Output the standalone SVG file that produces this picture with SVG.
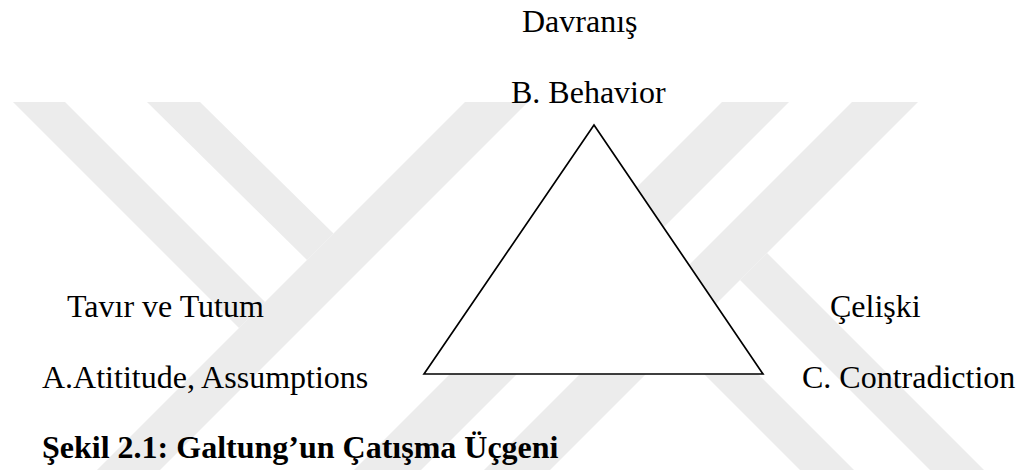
<svg xmlns="http://www.w3.org/2000/svg" width="1019" height="474" viewBox="0 0 1019 474">
  <defs>
    <style>
      text { font-family: 'Liberation Serif', 'DejaVu Serif', serif; font-size: 32px; fill: #000000; }
      .cap { font-weight: bold; }
      .wm { fill: #ececec; }
      .edge { fill: #ffffff; stroke: #000000; stroke-width: 1.7; stroke-linejoin: miter; }
    </style>
    <clipPath id="wmclip">
      <rect x="0" y="102" width="1019" height="368"/>
    </clipPath>
  </defs>
  <rect x="0" y="0" width="1019" height="474" fill="#ffffff"/>

  <g id="watermark" clip-path="url(#wmclip)">
    <polygon class="wm" points="13,102 65,102 265,302 239,328"/>
    <polygon class="wm" points="147,102 200,102 333.5,233.5 307,260"/>
    <polygon class="wm" points="465,102 528,102 160,470 97,470"/>
    <polygon class="wm" points="722,102 789,102 421,470 354,470"/>
    <polygon class="wm" points="852,102 918,102 550,470 484,470"/>
    <polygon class="wm" points="767,253 984,470 930,470 740,280"/>
    <polygon class="wm" points="637.5,253.5 854,470 800,470 610.5,280.5"/>
  </g>

  <g id="connectors">
    <polygon class="edge" points="424,374 594,125 763,374"/>
  </g>

  <g id="node-B">
    <text font-family="Liberation Serif, serif" x="522" y="32">Davranış</text>
    <text font-family="Liberation Serif, serif" x="511" y="103">B. Behavior</text>
  </g>
  <g id="node-A">
    <text font-family="Liberation Serif, serif" x="67" y="317">Tavır ve Tutum</text>
    <text font-family="Liberation Serif, serif" x="42" y="388">A.Atititude, Assumptions</text>
  </g>
  <g id="node-C">
    <text font-family="Liberation Serif, serif" x="830" y="317">Çelişki</text>
    <text font-family="Liberation Serif, serif" x="802" y="388">C. Contradiction</text>
  </g>
  <g id="caption">
    <text class="cap" font-family="Liberation Serif, serif" x="42" y="458">Şekil 2.1: Galtung’un Çatışma Üçgeni</text>
  </g>
</svg>
